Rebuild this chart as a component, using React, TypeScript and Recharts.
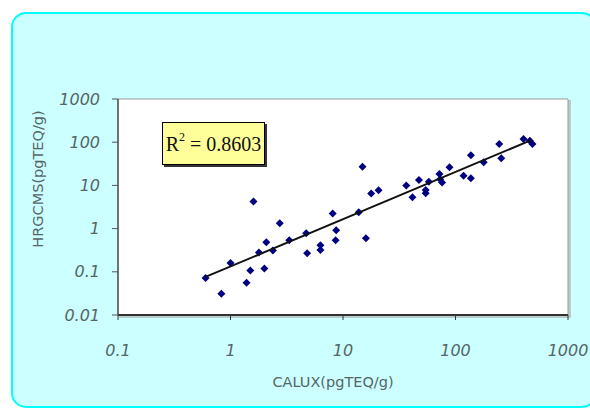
import {
  ScatterChart,
  Scatter,
  XAxis,
  YAxis,
  ReferenceArea,
} from 'recharts';

// CALUX vs HRGC/MS
const calux = [
  0.6, 0.83, 1.0, 1.39, 1.5, 1.6, 1.79, 2.0, 2.08, 2.38, 2.74, 3.33, 4.71, 4.8,
  6.3, 6.3, 8.1, 8.6, 8.7, 13.8, 14.9, 16.0, 17.8, 20.7, 36.5, 41.4, 47.3, 54.3,
  54.3, 58, 72, 73, 76, 88.5, 118, 137, 137, 178, 245, 255, 402, 458, 483,
];
const hrgcms = [
  0.072, 0.031, 0.16, 0.056, 0.107, 4.24, 0.28, 0.12, 0.48, 0.31, 1.33, 0.54,
  0.78, 0.27, 0.41, 0.32, 2.24, 0.54, 0.91, 2.4, 27, 0.6, 6.5, 7.7, 9.95, 5.3,
  13.3, 7.8, 6.6, 12.2, 18.4, 13.8, 11.6, 26.2, 16.8, 14.6, 49.8, 34.3, 91,
  42.4, 119, 108, 91,
];

// power trendline end points
const trendX = [0.6, 471];
const trendY = [0.076, 112];

const xTicks = [0.1, 1, 10, 100, 1000];
const yTicks = [0.01, 0.1, 1, 10, 100, 1000];

const points = calux.map((x, i) => ({ x, y: hrgcms[i] }));
const trend = trendX.map((x, i) => ({ x, y: trendY[i] }));

const tickStyle = {
  fill: '#556666',
  fontSize: 16,
  fontStyle: 'italic',
  fontFamily: 'DejaVu Sans',
};

const Diamond = (props: any) => {
  const { cx, cy } = props;
  const r = 4;
  return (
    <path
      d={`M${cx},${cy - r}L${cx + r},${cy}L${cx},${cy + r}L${cx - r},${cy}Z`}
      fill="#000080"
    />
  );
};

const App = () => {
  return (
    <div
      style={{
        position: 'absolute',
        left: 0,
        top: 0,
        width: 590,
        height: 408,
        background: '#fff',
        overflow: 'hidden',
      }}
    >
      <div
        style={{
          position: 'absolute',
          left: 11,
          top: 12,
          width: 582,
          height: 392,
          background: '#ccffff',
          border: '2px solid #00ffff',
          borderRadius: 15,
        }}
      />
      <div
        style={{
          position: 'absolute',
          left: 119,
          top: 100,
          width: 452,
          height: 218,
          background: '#b8cccc',
        }}
      />
      <div style={{ position: 'absolute', left: 0, top: 0 }}>
        <ScatterChart
          width={590}
          height={408}
          margin={{ top: 99, right: 22, bottom: 0, left: 18 }}
        >
          <ReferenceArea
            x1={0.1}
            x2={1000}
            y1={0.01}
            y2={1000}
            fill="#fff"
            fillOpacity={1}
            stroke="#999"
            strokeWidth={1}
          />
          <XAxis
            type="number"
            dataKey="x"
            scale="log"
            domain={[0.1, 1000]}
            ticks={xTicks}
            allowDataOverflow
            height={93}
            tick={tickStyle}
            tickSize={5}
            tickMargin={25}
            tickFormatter={(v) => String(v)}
            axisLine={{ stroke: '#333', strokeWidth: 2 }}
            tickLine={{ stroke: '#333' }}
          />
          <YAxis
            type="number"
            dataKey="y"
            scale="log"
            domain={[0.01, 1000]}
            ticks={yTicks}
            allowDataOverflow
            width={100}
            tick={tickStyle}
            tickSize={6}
            tickMargin={12}
            tickFormatter={(v) => String(v)}
            axisLine={{ stroke: '#555', strokeWidth: 1.5 }}
            tickLine={{ stroke: '#555' }}
          />
          <Scatter
            data={points}
            shape={Diamond}
            isAnimationActive={false}
          />
          <Scatter
            data={trend}
            line={{ stroke: '#111', strokeWidth: 2 }}
            shape={() => null}
            isAnimationActive={false}
          />
        </ScatterChart>
      </div>
      <div
        style={{
          position: 'absolute',
          left: 162,
          top: 122,
          width: 101,
          height: 41,
          background: '#ffff99',
          border: '1px solid #000',
          boxShadow: '2px 2px 0 #333',
          fontFamily: 'Liberation Serif',
          fontSize: 20,
          color: '#111',
          lineHeight: '43px',
          textAlign: 'center',
          whiteSpace: 'nowrap',
        }}
      >
        R<sup style={{ fontSize: 12, verticalAlign: 'top', lineHeight: '28px' }}>2</sup> = 0.8603
      </div>
      <div
        style={{
          position: 'absolute',
          left: 233,
          top: 374,
          width: 200,
          textAlign: 'center',
          fontFamily: 'DejaVu Sans',
          fontSize: 14.5,
          color: '#556666',
        }}
      >
        CALUX(pgTEQ/g)
      </div>
      <div
        style={{
          position: 'absolute',
          left: 38 - 100,
          top: 180 - 9,
          width: 200,
          textAlign: 'center',
          fontFamily: 'DejaVu Sans',
          fontSize: 14.5,
          color: '#556666',
          transform: 'rotate(-90deg)',
        }}
      >
        HRGCMS(pgTEQ/g)
      </div>
    </div>
  );
};

export default App;
